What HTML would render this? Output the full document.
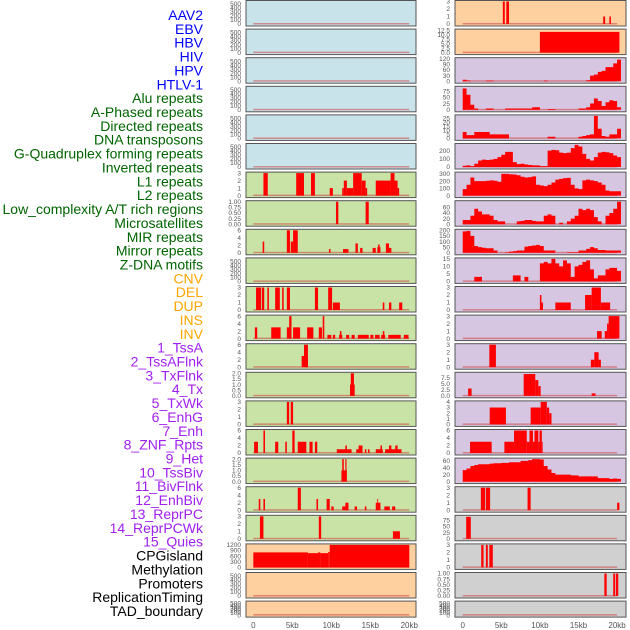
<!DOCTYPE html>
<html><head><meta charset="utf-8"><style>
html,body{margin:0;padding:0;background:#fff;}
svg{display:block;font-family:"Liberation Sans",sans-serif;}
</style></head><body>
<svg id="chart" width="630" height="630" viewBox="0 0 630 630" xmlns="http://www.w3.org/2000/svg">
<g id="labels"></g>
<g id="panels"></g>
<g id="xaxes"></g>
</svg>
<script>
const labelNames = ["AAV2","EBV","HBV","HIV","HPV","HTLV-1","Alu repeats","A-Phased repeats","Directed repeats","DNA transposons","G-Quadruplex forming repeats","Inverted repeats","L1 repeats","L2 repeats","Low_complexity A/T rich regions","Microsatellites","MIR repeats","Mirror repeats","Z-DNA motifs","CNV","DEL","DUP","INS","INV","1_TssA","2_TssAFlnk","3_TxFlnk","4_Tx","5_TxWk","6_EnhG","7_Enh","8_ZNF_Rpts","9_Het","10_TssBiv","11_BivFlnk","12_EnhBiv","13_ReprPC","14_ReprPCWk","15_Quies","CPGisland","Methylation","Promoters","ReplicationTiming","TAD_boundary"];
const labelGroups = [6,13,5,15,5];
const xTickValues = [0,5,10,15,20];
const xTickLabels = ["0","5kb","10kb","15kb","20kb"];

// column 1 tracks (segments: [startKb, endKb, value])
const c1r6 = [[1.3,1.85,3],[5.5,6.5,3],[7.4,7.9,3],[9.8,10.2,1],[11.4,11.6,1],[11.6,12,2],[12,12.8,1],[12.8,13.9,3],[13.9,14.4,2],[14.4,14.6,1],[15.7,16.5,2],[16.5,17.6,2],[17.6,18.1,3],[18.1,18.5,2],[18.5,18.7,1]];
const c1r7 = [[10.6,10.9,1],[14.4,14.8,1]];
const c1r8 = [[1.2,1.4,3],[4.3,4.7,6],[4.8,5.1,3],[5.1,5.7,6],[9.7,9.9,1],[11.5,12.2,1],[13.1,13.4,2.5],[13.7,14,1.3],[15.3,15.7,1.3],[15.9,16.3,1.5],[16.0,16.2,2.2],[17,17.4,2.5],[17.4,17.7,1.3]];
const c1r10 = [[0.35,1,3],[1.1,1.4,3],[1.8,2.0,3],[2.8,3.4,3],[3.7,3.9,3],[4.3,4.7,3],[7.9,8.3,3],[9.6,10.1,3],[10.2,11.1,1],[16.6,16.8,1],[17.4,17.7,1],[18.7,19.1,1]];
const c1r11 = [[0.2,0.5,3],[2.3,3.5,3],[4.3,4.9,3],[4.6,4.9,6],[5.1,6,3],[6.9,7.7,3],[8.4,8.8,3],[8.9,9.1,6],[9.5,10,1],[10.2,10.5,1],[11,11.4,1],[11.1,11.3,2],[11.9,12.3,1],[12.6,13,1],[13.4,14.8,1],[15,15.4,1],[15.6,16.2,1],[16.4,16.9,1],[16.6,16.8,2],[17.3,18.9,1],[19.3,19.9,1]];
const c1r12 = [[6.2,7,3],[6.5,7,6]];
const c1r13 = [[12.4,13,1],[12.5,12.9,2]];
const c1r14 = [[4.3,4.6,3],[4.8,5.1,3]];
const c1r15 = [[0.1,0.6,3],[1.3,1.5,6],[2.8,3.2,3],[4.1,4.3,3],[5,5.3,6],[5.7,6.8,3],[7.2,7.6,3],[7.9,8.2,3],[10.7,12.6,1],[11.8,12.0,2],[13.2,14,1],[13.5,14,2],[14.3,14.5,1],[14.7,14.9,1],[15.7,16.6,1],[16.3,16.5,2],[16.9,19,1],[17.4,17.7,2],[18.2,18.5,2]];
const c1r16 = [[11.3,12,1],[11.4,11.6,2],[11.8,11.95,2]];
const c1r17 = [[0.7,0.9,3],[1.3,1.5,3],[5.7,6.1,6],[8.1,8.3,3],[9.4,9.8,3],[10,10.3,1],[11.4,12.2,1],[11.8,12.2,2],[13,13.3,1],[14.3,14.5,1],[15.7,16.3,2],[15.9,16.0,3],[16.8,17.5,1],[17.8,18.2,1]];
const c1r18 = [[0.85,1.3,3],[8.4,8.7,3],[17.9,18.8,1]];
const c1r19 = [[0,7,800],[7,8.3,760],[8.3,8.6,800],[8.6,9.6,760],[9.6,9.8,820],[9.8,20,1200]];

// column 2 tracks
const c2r0 = [[5.2,5.45,3],[5.65,6.0,3],[18.2,18.45,1],[19.0,19.2,1]];
const c2r1 = [[10,20.3,11.5]];
// binned tracks: 0.5 kb bins starting at 0
const c2r2 = [8,4,0,0,0,0,3,3,0,0,0,0,0,0,0,0,0,0,0,0,0,3,0,0,0,0,0,0,0,0,0,0,5,30,35,50,55,75,75,95,115];
const c2r3 = [85,60,20,5,0,0,5,5,0,0,0,5,5,5,5,5,5,5,10,10,0,0,3,3,0,0,0,0,0,0,5,5,10,25,45,35,15,30,38,35,10];
const c2r4 = [8,4,4,8,8,8,8,5,5,5,5,5,0,0,0,0,0,0,0,0,0,0,2,2,0,0,0,0,0,0,2,3,4,5,28,12,3,2,5,5,12];
const c2r5 = [15,20,10,40,80,90,85,90,100,120,150,185,185,60,35,40,30,25,20,20,10,10,200,210,205,175,170,175,230,270,250,160,100,80,120,175,185,180,170,140,120];
const c2r6 = [90,150,250,200,200,200,205,210,205,190,300,300,295,290,280,260,250,255,265,150,140,130,150,180,220,230,240,245,150,100,90,210,220,210,200,180,150,70,60,60,60];
const c2r7 = [15,15,30,55,45,35,35,30,15,10,10,0,0,0,10,12,15,15,12,10,10,30,35,30,0,5,0,10,20,30,55,50,55,50,25,10,0,30,40,55,80];
const c2r8 = [190,195,150,60,50,45,40,40,20,0,0,5,10,15,20,20,55,60,65,70,60,20,20,20,0,0,0,5,5,5,20,20,35,50,40,25,25,20,20,20,20];
const c2r9 = [0,0,0,3,3,0,0,0,0,0,0,0,0,4,4,0,3,0,0,0,12,13,12,15,12,10,14,12,3,10,11,13,14,8,2,4,4,8,9,9,7];
const c2r10 = [[10.0,10.2,2],[10.2,10.4,1],[12.0,14.0,1],[15.85,16.7,2],[16.7,17.9,3],[17.9,19.1,1]];
const c2r11 = [[17.4,18.0,1],[18.4,18.7,1],[18.7,18.9,2],[18.9,20.3,3]];
const c2r12 = [[3.45,4.3,3],[16.6,17.05,1],[17.05,17.6,2],[17.6,17.9,1]];
const c2r13 = [[0.7,1.15,3],[7.9,9.4,9],[9.4,9.8,6.5],[9.8,10.1,4],[16.7,17.2,1]];
const c2r14 = [[3.5,5.6,3],[8.8,10.1,3],[10.1,10.9,4],[10.9,11.2,3],[11.2,11.5,2]];
const c2r15 = [[0.95,3.75,3],[5.4,6.65,3],[6.65,8.3,6],[8.3,8.65,3],[8.65,9.1,6],[9.1,9.3,3],[9.3,9.8,6],[9.8,9.95,3],[9.95,10.25,6],[10.25,10.35,3]];
const c2r16 = [33,38,45,48,50,50,50,52,53,53,54,54,56,56,56,60,60,62,65,65,64,45,35,25,20,20,20,20,18,18,15,15,15,15,15,10,10,10,8,9,8];
const c2r17 = [[2.35,2.9,3],[3.0,3.55,3],[8.4,8.8,3],[20.0,20.3,1]];
const c2r18 = [[0.45,1.05,88]];
const c2r19 = [[2.4,2.7,3],[3.0,3.25,3],[3.45,3.9,3]];
const c2r20 = [[18.35,18.65,1],[19.5,19.75,1],[19.85,20.15,1]];

const T500 = [0,100,200,300,400,500];
const T3 = [0,1,2,3];
const T6 = [0,2,4,6];
const BLUE="#c9e3ea", GREEN="#c9e2a5", ORANGE="#ffd09f", PURPLE="#d6c6e2", GREY="#d0d0d0";

const col1 = [
 {bg:BLUE,ymax:560,ticks:T500},{bg:BLUE,ymax:560,ticks:T500},{bg:BLUE,ymax:560,ticks:T500},
 {bg:BLUE,ymax:560,ticks:T500},{bg:BLUE,ymax:560,ticks:T500},{bg:BLUE,ymax:560,ticks:T500},
 {bg:GREEN,ymax:3,ticks:T3,segs:c1r6},{bg:GREEN,ymax:1,ticks:[0,0.25,0.5,0.75,1],tl:["0.00","0.25","0.50","0.75","1.00"],segs:c1r7},
 {bg:GREEN,ymax:6,ticks:T6,segs:c1r8},{bg:GREEN,ymax:560,ticks:T500},
 {bg:GREEN,ymax:3,ticks:T3,segs:c1r10},{bg:GREEN,ymax:6,ticks:T6,segs:c1r11},
 {bg:GREEN,ymax:6,ticks:T6,segs:c1r12},{bg:GREEN,ymax:2,ticks:[0,0.5,1,1.5,2],tl:["0.0","0.5","1.0","1.5","2.0"],segs:c1r13},
 {bg:GREEN,ymax:3,ticks:T3,segs:c1r14},{bg:GREEN,ymax:6,ticks:T6,segs:c1r15},
 {bg:GREEN,ymax:2,ticks:[0,0.5,1,1.5,2],tl:["0.0","0.5","1.0","1.5","2.0"],segs:c1r16},{bg:GREEN,ymax:6,ticks:T6,segs:c1r17},
 {bg:GREEN,ymax:3,ticks:T3,segs:c1r18},{bg:ORANGE,ymax:1200,ticks:[0,300,600,900,1200],segs:c1r19},
 {bg:ORANGE,ymax:560,ticks:T500},{bg:ORANGE,ymax:560,ticks:T500}
];
const col2 = [
 {bg:ORANGE,ymax:3,ticks:T3,segs:c2r0},{bg:ORANGE,ymax:12.5,ticks:[0,2.5,5,7.5,10,12.5],tl:["0.0","2.5","5.0","7.5","10.0","12.5"],segs:c2r1},
 {bg:PURPLE,ymax:120,ticks:[0,30,60,90,120],bins:c2r2},{bg:PURPLE,ymax:90,ticks:[0,25,50,75],bins:c2r3},
 {bg:PURPLE,ymax:28,ticks:[0,5,10,15,20,25],bins:c2r4},{bg:PURPLE,ymax:275,ticks:[0,100,200],bins:c2r5},
 {bg:PURPLE,ymax:310,ticks:[0,100,200,300],bins:c2r6},{bg:PURPLE,ymax:80,ticks:[0,20,40,60],bins:c2r7},
 {bg:PURPLE,ymax:200,ticks:[0,50,100,150,200],bins:c2r8},{bg:PURPLE,ymax:15,ticks:[0,5,10,15],bins:c2r9},
 {bg:PURPLE,ymax:3,ticks:T3,segs:c2r10},{bg:PURPLE,ymax:3,ticks:T3,segs:c2r11},
 {bg:PURPLE,ymax:3,ticks:T3,segs:c2r12},{bg:PURPLE,ymax:9.3,ticks:[0,2.5,5,7.5],tl:["0.0","2.5","5.0","7.5"],segs:c2r13},
 {bg:PURPLE,ymax:4,ticks:[0,1,2,3,4],segs:c2r14},{bg:PURPLE,ymax:6,ticks:T6,segs:c2r15},
 {bg:PURPLE,ymax:65,ticks:[0,20,40,60],bins:c2r16},{bg:GREY,ymax:3,ticks:T3,segs:c2r17},
 {bg:GREY,ymax:90,ticks:[0,25,50,75],segs:c2r18},{bg:GREY,ymax:3,ticks:T3,segs:c2r19},
 {bg:GREY,ymax:1,ticks:[0,0.25,0.5,0.75,1],tl:["0.00","0.25","0.50","0.75","1.00"],segs:c2r20},{bg:GREY,ymax:560,ticks:T500}
];

const NS="http://www.w3.org/2000/svg";
function mk(tag, attrs, parent){const e=document.createElementNS(NS,tag);for(const k in attrs)e.setAttribute(k,attrs[k]);parent.appendChild(e);return e;}

// labels
const labelColors=["#0000ff","#006400","#ffa500","#a020f0","#000000"];
const lg=document.getElementById('labels');
let gi=0,cnt=0;
labelNames.forEach((n,i)=>{
  while(cnt>=labelGroups[gi]){cnt=0;gi++;}
  cnt++;
  const t=mk('text',{x:203,y:15+i*13.86+5,'text-anchor':'end','font-size':'14',fill:labelColors[gi]},lg);
  t.textContent=n;
  
  
});

const cols=[{px0:246,px1:416,x0:253.3,k:7.8,tx:241,data:col1,name:'left'},{px0:455,px1:626,x0:462.7,k:7.72,tx:450,data:col2,name:'right'}];
const pg=document.getElementById('panels');
cols.forEach(c=>{
  const xs=kb=>c.x0+kb*c.k;
  c.data.forEach((p,r)=>{
    const top=0.5+r*28.6, h=(r===21?16:25.5);
    const yb=top+h-2, yt=top+1;
    const ys=v=>yb-(v/p.ymax)*(yb-yt);
    const g=mk('g',{},pg);
    
    
    mk('rect',{x:c.px0,y:top,width:c.px1-c.px0,height:h,fill:p.bg},g);
    mk('rect',{x:xs(0),y:yb-1,width:xs(20)-xs(0),height:1.5,fill:'#d05050',opacity:0.6},g);
    if(p.segs){p.segs.forEach(s=>{
      const b=mk('rect',{x:xs(s[0]),y:ys(s[2]),width:Math.max(0.8,xs(s[1])-xs(s[0])),height:yb-ys(s[2]),fill:'#ff0000'},g);
      
      
    });}
    if(p.bins){
      let d='M'+xs(0)+','+yb;
      p.bins.forEach((v,i)=>{d+=' L'+xs(i*0.5)+','+ys(v)+' L'+xs(i*0.5+0.5)+','+ys(v);});
      d+=' L'+xs(p.bins.length*0.5)+','+yb+' Z';
      const a=mk('path',{d:d,fill:'#ff0000'},g);
      
      
    }
    mk('rect',{x:c.px0,y:top,width:c.px1-c.px0,height:h,fill:'none',stroke:'#555',"stroke-width":1},g);
    p.ticks.forEach((tv,ti)=>{
      const t=mk('text',{x:c.tx,y:ys(Math.min(tv,p.ymax))+2.2,'text-anchor':'end','font-size':'6.5',fill:'#555'},g);
      t.textContent=p.tl?p.tl[ti]:String(tv);
      
      
    });
  });
  const xg=document.getElementById('xaxes');
  xTickValues.forEach((v,i)=>{
    const t=mk('text',{x:xs(v),y:628,'text-anchor':'middle','font-size':'8',fill:'#555'},xg);
    t.textContent=xTickLabels[i];
    
    
  });
});
</script>
</body></html>
